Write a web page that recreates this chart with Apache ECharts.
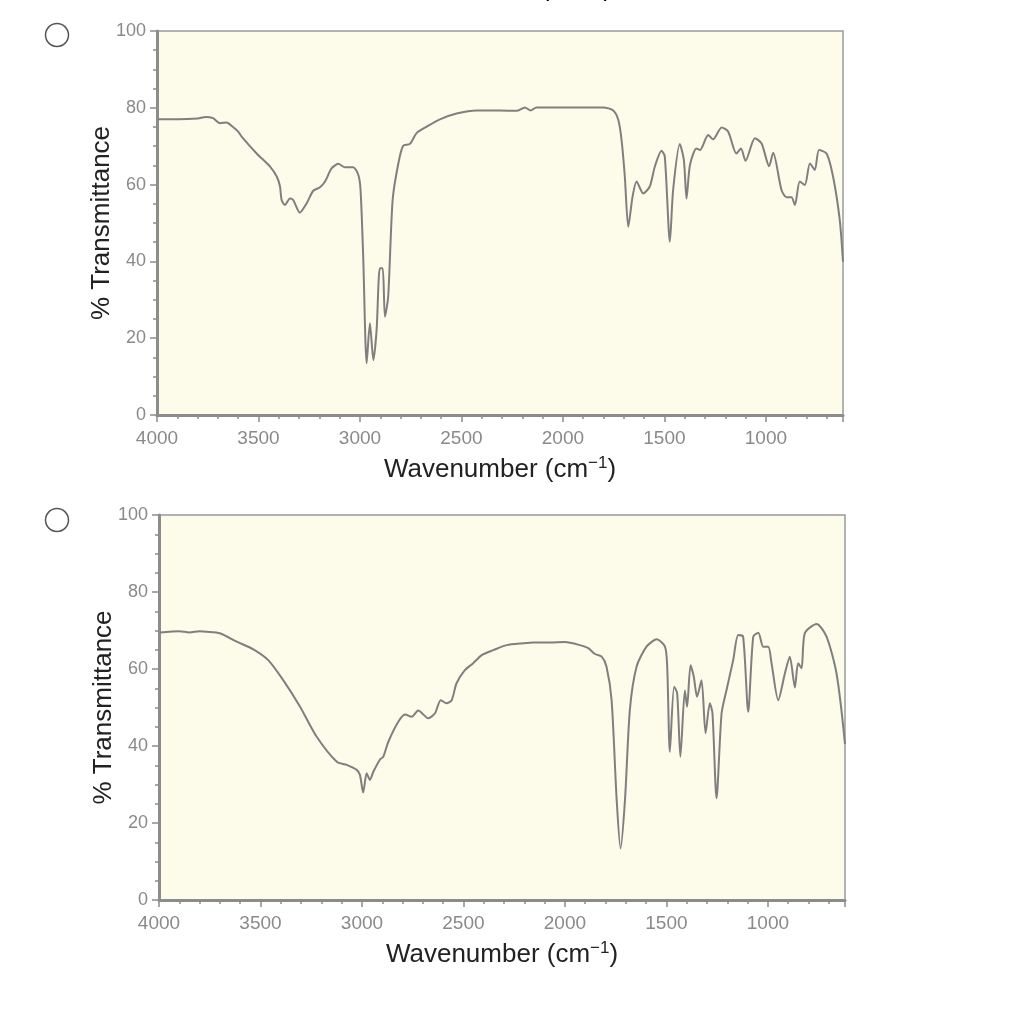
<!DOCTYPE html>
<html><head><meta charset="utf-8">
<script src="https://cdn.jsdelivr.net/npm/echarts@6/dist/echarts.min.js"></script>
<style>html,body{margin:0;padding:0;background:#fff}#c{width:1011px;height:1024px}</style>
</head><body><div id="c"></div>
<script>
// ---- Spectrum A (top) ----
const wavenumberA = [3995,3900,3800,3760,3724,3690,3657,3630,3600,3583,3509,3443,3410,3394,3386,3370,3345,3329,3296,3263,3230,3197,3172,3140,3107,3074,3033,3008,2997,2984,2967,2951,2934,2918,2902,2888,2877,2861,2839,2811,2787,2754,2721,2671,2606,2524,2425,2310,2228,2187,2159,2130,1801,1752,1727,1711,1695,1678,1657,1637,1604,1572,1547,1514,1498,1473,1457,1424,1404,1391,1374,1342,1325,1284,1260,1218,1186,1145,1123,1100,1054,1021,984,964,923,898,874,857,833,808,783,759,738,701,669,636,620];
const transmittanceA = [77.0,77.0,77.2,77.6,77.3,76.0,76.2,75.2,73.8,72.5,68.1,64.7,62.1,59.5,56.0,54.7,56.4,56.0,52.7,55.1,58.4,59.3,60.8,64.2,65.4,64.5,64.5,62.5,58.6,41.2,13.5,23.9,14.3,22.1,38.2,38.2,25.6,30.8,56.0,65.5,70.1,70.6,73.4,75.1,77.0,78.5,79.3,79.3,79.2,80.1,79.3,80.1,80.1,79.3,76.8,71.6,62.1,49.0,56.8,60.8,57.7,59.5,64.7,68.8,67.3,45.1,58.6,70.6,66.4,56.4,65.1,69.4,69.0,72.9,71.8,74.9,73.8,68.1,69.4,66.2,72.1,70.7,64.8,68.3,58.6,56.7,56.7,54.7,60.8,59.9,65.5,63.8,69.0,68.1,62.1,50.8,39.9];

// ---- Spectrum B (bottom) ----
const wavenumberB = [3995,3900,3850,3800,3765,3700,3617,3535,3462,3388,3305,3223,3124,3075,3026,3010,2994,2977,2961,2944,2911,2895,2870,2821,2788,2755,2723,2673,2640,2612,2583,2558,2534,2493,2452,2410,2353,2287,2205,2156,2074,2000,1926,1885,1852,1819,1795,1770,1745,1726,1704,1680,1647,1598,1548,1507,1496,1483,1462,1447,1431,1409,1398,1381,1365,1349,1327,1307,1286,1273,1253,1228,1204,1171,1146,1122,1097,1072,1047,1023,998,982,949,916,892,867,851,834,818,760,711,662,620];
const transmittanceB = [69.5,69.8,69.5,69.8,69.7,69.3,67.1,65.1,62.3,57.1,50.2,42.4,35.9,35.1,33.8,32.5,27.9,32.9,31.2,33.3,36.5,37.2,41.1,46.3,48.2,47.6,49.2,47.2,48.5,51.9,51.1,51.9,56.3,59.7,61.5,63.6,64.9,66.2,66.7,66.9,66.9,67.0,66.2,65.4,63.9,63.2,60.6,51.9,26.0,13.4,26.0,49.4,60.6,65.8,67.7,65.8,60.6,38.5,55.4,53.7,37.2,54.4,50.2,61.0,58.0,52.8,57.1,43.3,51.1,48.5,26.4,48.5,54.5,62.3,68.8,68.4,48.9,68.4,69.4,65.8,65.8,61.5,51.9,58.9,63.2,55.2,61.5,60.2,69.3,71.7,68.4,58.9,40.5];

// ---- Axis ticks / labels ----
const xTickLabels = [4000,3500,3000,2500,2000,1500,1000];
const yTickLabels = [0,20,40,60,80,100];
const xAxisTitle = '{a|Wavenumber (cm}{s|\u22121}{a|)}';
const yAxisTitle = '% Transmittance';

const FONT = "'Liberation Sans', Arial, Helvetica, sans-serif";
const AXIS_GRAY = '#8c8c8c';
const LABEL_GRAY = '#8a8a8a';
const BG = '#fdfbe9';

const nameRich = {
  a: {fontSize: 26, lineHeight: 28, color: '#222', fontFamily: FONT, verticalAlign: 'bottom'},
  s: {fontSize: 17, lineHeight: 18, color: '#222', fontFamily: FONT, verticalAlign: 'top', padding: [0, 0, 16, 0]}
};

const grids = [
  {left: 157, top: 31, width: 686, height: 384},
  {left: 159, top: 515, width: 686, height: 385}
].map(g => Object.assign(g, {show: true, backgroundColor: BG, borderColor: '#9a9a9a', borderWidth: 1.5}));

const xAxes = [], yAxes = [];
grids.forEach((g, gi) => {
  xAxes.push({
    gridIndex: gi, type: 'value', position: 'bottom', min: -4000, max: -620, interval: 500,
    axisLine: {show: true, onZero: false, lineStyle: {color: AXIS_GRAY, width: 3}},
    axisTick: {show: true, length: 7, lineStyle: {color: AXIS_GRAY, width: 1.5}},
    axisLabel: {color: LABEL_GRAY, fontSize: 19, fontFamily: FONT, margin: 14,
      formatter: v => xTickLabels.includes(-v) ? String(-v) : ''},
    splitLine: {show: false},
    name: xAxisTitle, nameLocation: 'middle', nameGap: 40, nameMoveOverlap: false,
    nameTextStyle: {rich: nameRich}
  });
  xAxes.push({
    gridIndex: gi, type: 'value', position: 'bottom', min: -4000, max: -620, interval: 100,
    axisLine: {show: false}, axisLabel: {show: false}, splitLine: {show: false},
    axisTick: {show: true, length: 4, lineStyle: {color: AXIS_GRAY, width: 1.5}}
  });
  yAxes.push({
    gridIndex: gi, type: 'value', position: 'left', min: 0, max: 100, interval: 20,
    axisLine: {show: true, onZero: false, lineStyle: {color: AXIS_GRAY, width: 3}},
    axisTick: {show: true, length: 7, lineStyle: {color: AXIS_GRAY, width: 1.5}},
    minorTick: {show: true, splitNumber: 4, length: 4, lineStyle: {color: AXIS_GRAY, width: 1.5}},
    axisLabel: {color: LABEL_GRAY, fontSize: 18, fontFamily: FONT, margin: 11,
      formatter: v => yTickLabels.includes(v) ? String(v) : ''},
    splitLine: {show: false},
    name: yAxisTitle, nameLocation: 'middle', nameGap: 42, nameMoveOverlap: false,
    nameTextStyle: {fontSize: 26, color: '#222', fontFamily: FONT}
  });
});

const lineStyle = {color: '#7f7f7f', width: 2};
const option = {
  animation: false,
  backgroundColor: '#fff',
  grid: grids,
  xAxis: xAxes,
  yAxis: yAxes,
  graphic: [
    {type: 'circle', shape: {cx: 57, cy: 35, r: 11.5}, style: {fill: '#fff', stroke: '#555', lineWidth: 1.5}},
    {type: 'circle', shape: {cx: 57, cy: 520, r: 11.5}, style: {fill: '#fff', stroke: '#555', lineWidth: 1.5}},
    {type: 'text', x: 496, y: -12, style: {text: xAxisTitle, rich: nameRich, align: 'center', verticalAlign: 'middle'}}
  ],
  series: [
    {type: 'line', xAxisIndex: 0, yAxisIndex: 0, showSymbol: false, smooth: 0.25, lineStyle,
      data: wavenumberA.map((w, i) => [-w, transmittanceA[i]])},
    {type: 'line', xAxisIndex: 2, yAxisIndex: 1, showSymbol: false, smooth: 0.25, lineStyle,
      data: wavenumberB.map((w, i) => [-w, transmittanceB[i]])}
  ]
};
const chart = echarts.init(document.getElementById('c'), null, {renderer: 'canvas'});
chart.setOption(option);
</script>
</body></html>
